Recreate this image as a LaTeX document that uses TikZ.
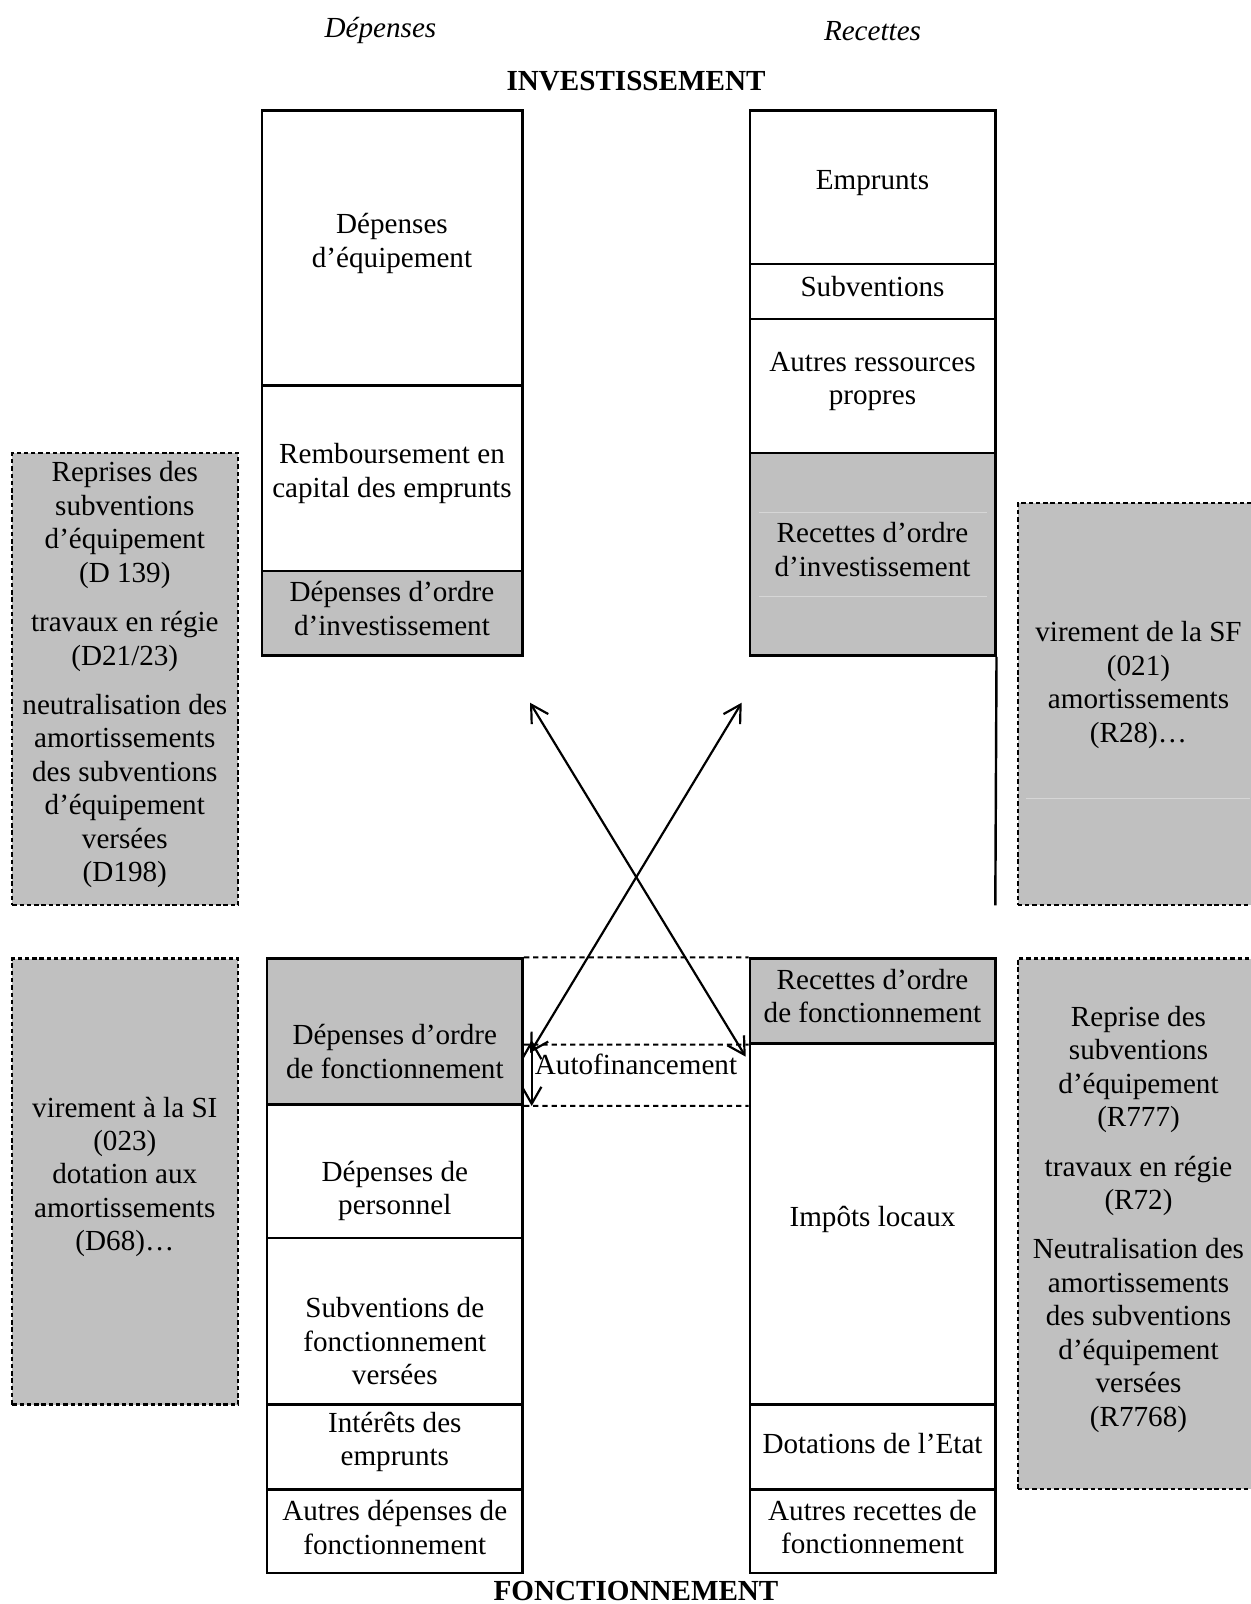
\documentclass[tikz,border=0pt]{standalone}
\usepackage{fontspec}
\setmainfont{Liberation Serif}
\usetikzlibrary{arrows.meta,positioning,fit}
\definecolor{ordre}{RGB}{192,192,192}
\definecolor{trace}{RGB}{214,214,214}
\tikzset{
    %Define standard arrow tip
    >={Straight Barb[length=7pt,width=8pt]},
    %Define style for column cells
    cell/.style={
           draw=black, line width=1pt,
           inner sep=0pt},
    ordercell/.style={
           cell,
           fill=ordre},
    %Define style for side boxes
    sidebox/.style={
           draw=black, line width=0.9pt,
           dash pattern=on 1.8pt off 1.2pt,
           fill=ordre,
           inner sep=0pt},
    celltext/.style={
           align=center,
           inner sep=0pt,
           yshift=-1.3pt,
           font=\fontsize{12}{13.8}\selectfont},
    bighead/.style={
           celltext,
           font=\fontsize{12}{13.8}\selectfont\bfseries},
    sidehead/.style={
           celltext,
           font=\fontsize{12}{13.8}\selectfont\itshape},
    % Define line styles
    autoline/.style={
           line width=0.8pt,
           dash pattern=on 2.2pt off 1.6pt},
    flow/.style={
           <->,
           line width=0.9pt},
    faint/.style={
           draw=trace, line width=0.4pt}
}

\begin{document}
\begin{tikzpicture}[x=0.412pt,y=-0.412pt]
\useasboundingbox (0,0) rectangle (1250,1604);
 %headings
\node[sidehead] (dep) at (380.5,27.6) {Dépenses};
\node[sidehead] (rec) at (872.5,27.6) {Recettes};
\node[bighead] (inv) at (636,77.7) {INVESTISSEMENT};
\node[bighead, yshift=1.3pt] (fon) at (636,1590.6) {FONCTIONNEMENT};
 %side boxes
\node[sidebox, fit={(12.3,453.1) (238.3,905.3)}] (sdi) {};
\node[sidebox, fit={(1017.8,503.3) (1254,905.3)}] (sri) {};
\node[sidebox, fit={(12.3,958.5) (238.3,1404.5)}] (sdf) {};
\node[sidebox, fit={(1017.8,958.5) (1254,1489.3)}] (srf) {};
\draw[faint] (1026,798.3) -- (1250,798.3);
\node[celltext] at (124.8,671.6) {Reprises des\\subventions\\d’équipement\\(D 139)\\[6.5pt]
  travaux en régie\\(D21/23)\\[6.5pt]
  neutralisation des\\amortissements\\des subventions\\d’équipement\\versées\\(D198)};
\node[celltext] at (1138.5,681.8) {virement de la SF\\(021)\\amortissements\\(R28)…};
\node[celltext] at (124.8,1173.8) {virement à la SI\\(023)\\dotation aux\\amortissements\\(D68)…};
\node[celltext] at (1138.5,1216.2) {Reprise des\\subventions\\d’équipement\\(R777)\\[6.5pt]
  travaux en régie\\(R72)\\[6.5pt]
  Neutralisation des\\amortissements\\des subventions\\d’équipement\\versées\\(R7768)};
 %investissement, depenses
\node[cell, fit={(262,110.5) (522.7,385.6)}] (equip) {};
\node[cell, fit={(262,385.6) (522.7,570.8)}] (rembt) {};
\node[ordercell, fit={(262,570.8) (522.7,655.7)}] (dordi) {};
\node[celltext] at (392,240.4) {Dépenses\\d’équipement};
\node[celltext] at (392,470.5) {Remboursement en\\capital des emprunts};
\node[celltext] at (392,605.6) {Dépenses d’ordre\\d’investissement};
 %investissement, recettes
\node[cell, fit={(749.8,110.5) (995.3,263.9)}] (empr) {};
\node[cell, fit={(749.8,263.9) (995.3,319.1)}] (subv) {};
\node[cell, fit={(749.8,319.1) (995.3,453.1)}] (ress) {};
\node[ordercell, fit={(749.8,453.1) (995.3,655.7)}] (rordi) {};
\draw[faint] (759,512) -- (987,512) (759,596) -- (987,596);
\draw[line width=1pt] (rordi.south east) -- (995.3,905.3);
\node[celltext] at (872.5,180) {Emprunts};
\node[celltext] at (872.5,283.3) {Subventions};
\node[celltext] at (872.5,378.5) {Autres ressources\\propres};
\node[celltext] at (872.5,546.2) {Recettes d’ordre\\d’investissement};
 %fonctionnement, depenses
\node[ordercell, fit={(267,958.5) (522.7,1104.7)}] (dordf) {};
\node[cell, fit={(267,1104.7) (522.7,1237.7)}] (pers) {};
\node[cell, fit={(267,1237.7) (522.7,1404.5)}] (subvf) {};
\node[cell, fit={(267,1404.5) (522.7,1489.3)}] (inter) {};
\node[cell, fit={(267,1489.3) (522.7,1573.2)}] (autdf) {};
\node[celltext] at (394.8,1048.5) {Dépenses d’ordre\\de fonctionnement};
\node[celltext] at (394.8,1187.6) {Dépenses de\\personnel};
\node[celltext] at (394.8,1338) {Subventions de\\fonctionnement\\versées};
\node[celltext] at (394.8,1438.7) {Intérêts des\\emprunts};
\node[celltext] at (394.8,1524.1) {Autres dépenses de\\fonctionnement};
 %fonctionnement, recettes
\node[ordercell, fit={(749.8,958.5) (995.3,1043.4)}] (rordf) {};
\node[cell, fit={(749.8,1043.4) (995.3,1404.5)}] (impot) {};
\node[cell, fit={(749.8,1404.5) (995.3,1489.3)}] (dotat) {};
\node[cell, fit={(749.8,1489.3) (995.3,1573.2)}] (autrf) {};
\node[celltext] at (872.5,992.7) {Recettes d’ordre\\de fonctionnement};
\node[celltext] at (872.5,1216.2) {Impôts locaux};
\node[celltext] at (872.5,1440.2) {Dotations de l’Etat};
\node[celltext] at (872.5,1524.1) {Autres recettes de\\fonctionnement};
 %autofinancement
\draw[autoline] (dordf.north east) -- (rordf.north west)
    (dordf.east |- rordf.south) -- (rordf.south west)
    (dordf.south east) -- (impot.west |- dordf.south);
\node[celltext] (auto) at (636,1060.8) {Autofinancement};
 %flows
\coordinate (ti) at (530,702.7);
\coordinate (tr) at (741.7,702.7);
\coordinate (fl) at (530,1053);
\coordinate (fr) at (745.7,1056.7);
\coordinate (at) at (531.7,1040);
\coordinate (ab) at (531.7,1106);
\draw[flow] (ti) -- (fr);
\draw[flow] (tr) -- (fl);
\draw[flow] (at) -- (ab);
\end{tikzpicture}
\end{document}
